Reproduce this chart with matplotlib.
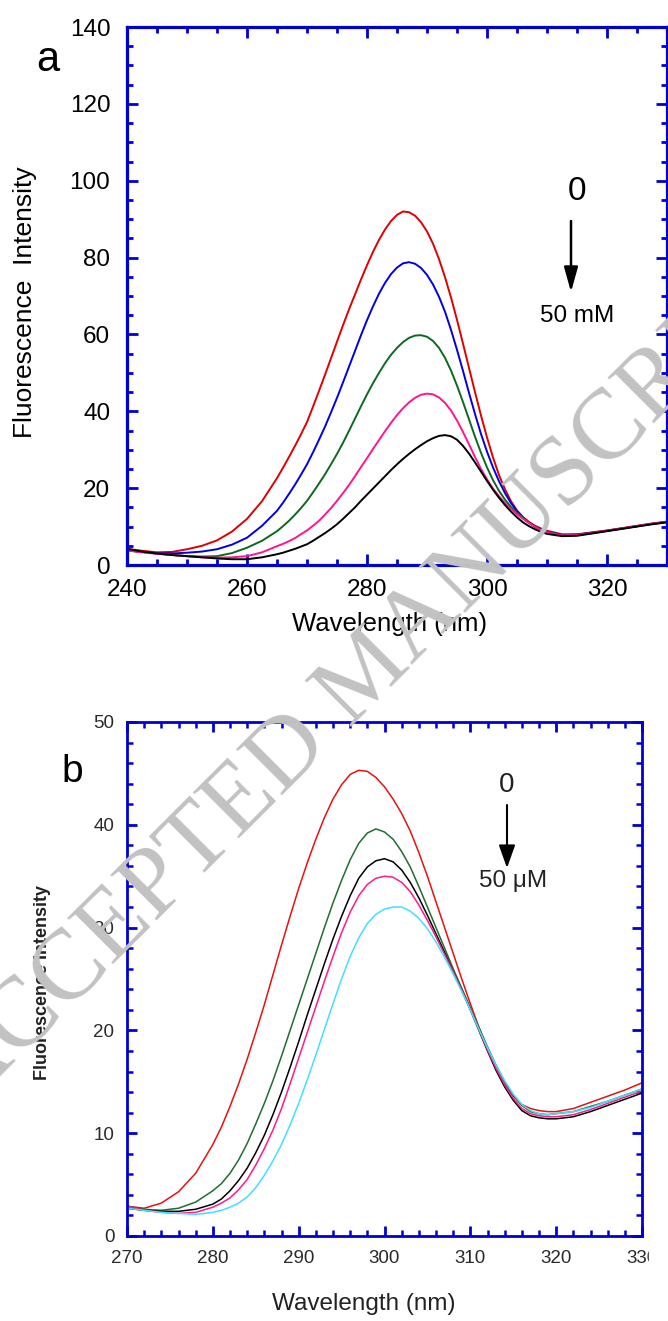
import matplotlib
matplotlib.use("Agg")
import matplotlib.pyplot as plt
from matplotlib.ticker import MultipleLocator
from matplotlib.patches import FancyArrowPatch, Rectangle

plt.rcParams['font.family'] = ['Liberation Sans', 'DejaVu Sans']

# ---------------- data: panel a (wavelength, nm) ----------------
wl_a = ([240, 242.5, 245, 247.5, 250, 252.5, 255, 257.5, 260, 262.5, 265]
        + list(range(266, 311))
        + [312.5, 315, 317.5, 320, 322.5, 325, 327.5, 330])
red_a = [4.2, 3.7, 3.3, 3.4, 4.1, 5.0, 6.4, 8.7, 12.0, 16.6, 22.6,
         25.3, 28.1, 31.0, 34.0, 37.2,
         41.2, 45.3, 49.5, 53.8, 58.1, 62.4, 66.5, 70.4, 74.3, 78.0,
         81.5, 84.6, 87.3, 89.5, 91.1, 92.0, 91.8, 90.9, 89.2, 86.8,
         83.6, 79.6, 74.9, 69.6, 63.8, 57.6, 51.3, 45.0, 38.9, 33.2,
         28.0, 23.4, 19.7, 16.6, 14.2, 12.5, 11.2, 10.2, 9.5, 8.9,
         8.0, 8.0, 8.5, 9.0, 9.6, 10.2, 10.8, 11.3]
blue_a = [3.8, 3.4, 3.0, 3.0, 3.2, 3.5, 4.1, 5.3, 7.1, 10.2, 14.1,
          16.2, 18.5, 20.9, 23.5, 26.2,
          29.3, 32.6, 36.0, 39.7, 43.5, 47.5, 51.6, 55.7, 59.8, 63.7,
          67.3, 70.6, 73.4, 75.7, 77.4, 78.5, 78.8, 78.4, 77.3, 75.5,
          73.0, 69.8, 65.9, 61.2, 56.0, 50.5, 44.8, 39.3, 34.1, 29.5,
          25.4, 21.8, 18.7, 16.1, 14.0, 12.3, 11.0, 10.0, 9.3, 8.7,
          7.8, 7.9, 8.4, 8.9, 9.5, 10.1, 10.7, 11.2]
green_a = [3.8, 3.4, 3.0, 2.6, 2.3, 2.2, 2.3, 3.1, 4.5, 6.3, 8.8,
           10.1, 11.5, 13.1, 14.8, 16.7,
           18.9, 21.2, 23.6, 26.2, 28.9, 31.8, 34.9, 38.1, 41.3, 44.4,
           47.3, 50.0, 52.5, 54.7, 56.5, 58.0, 59.1, 59.7, 59.8, 59.4,
           58.3, 56.5, 53.9, 50.6, 46.7, 42.4, 37.9, 33.4, 29.2, 25.4,
           22.1, 19.3, 17.0, 15.1, 13.6, 12.3, 11.0, 10.0, 9.2, 8.6,
           7.7, 7.8, 8.3, 8.9, 9.5, 10.1, 10.7, 11.2]
pink_a = [3.8, 3.3, 2.9, 2.6, 2.3, 2.0, 1.9, 2.0, 2.3, 3.3, 4.9,
          5.5, 6.2, 7.0, 8.0, 9.0,
          10.2, 11.5, 13.1, 14.8, 16.7, 18.7, 20.8, 23.1, 25.5, 27.8,
          30.2, 32.5, 34.8, 37.0, 39.0, 40.8, 42.3, 43.5, 44.3, 44.6,
          44.4, 43.6, 42.2, 40.2, 37.6, 34.6, 31.4, 28.1, 25.0, 22.3,
          19.9, 17.9, 16.1, 14.6, 13.2, 12.0, 10.9, 9.9, 9.1, 8.5,
          7.7, 7.8, 8.3, 8.9, 9.5, 10.1, 10.7, 11.2]
black_a = [4.2, 3.5, 3.0, 2.6, 2.3, 2.0, 1.7, 1.5, 1.5, 2.0, 2.8,
           3.2, 3.7, 4.2, 4.8, 5.4,
           6.3, 7.3, 8.3, 9.4, 10.6, 12.0, 13.5, 15.0, 16.7, 18.3,
           19.9, 21.5, 23.1, 24.7, 26.2, 27.6, 28.9, 30.1, 31.2, 32.2,
           33.0, 33.6, 33.8, 33.5, 32.6, 31.0, 29.0, 26.7, 24.3, 21.9,
           19.6, 17.5, 15.6, 13.9, 12.4, 11.1, 10.1, 9.3, 8.6, 8.1,
           7.5, 7.6, 8.2, 8.8, 9.4, 10.0, 10.6, 11.1]
series_a = [(red_a, '#e00000'), (blue_a, '#0000e6'), (green_a, '#0b6a1e'),
            (pink_a, '#ff1493'), (black_a, '#000000')]

# ---------------- data: panel b (wavelength, nm) ----------------
wl_b = ([270, 272, 274, 276, 278, 280]
        + list(range(281, 320))
        + [320, 322, 324, 326, 328, 330])
red_b = [2.9, 2.7, 3.2, 4.3, 6.1, 8.9,
         10.6, 12.6, 14.8, 17.2, 19.8, 22.5, 25.4, 28.3, 31.1, 33.8,
         36.3, 38.6, 40.7, 42.5, 43.9, 44.9, 45.3, 45.2, 44.6, 43.7,
         42.5, 41.1, 39.4, 37.3, 35.0, 32.5, 30.0, 27.5, 25.0, 22.6,
         20.3, 18.2, 16.3, 14.8, 13.6, 12.8, 12.4, 12.2, 12.1,
         12.1, 12.4, 13.0, 13.6, 14.2, 14.9]
green_b = [2.9, 2.6, 2.5, 2.7, 3.3, 4.4,
           5.1, 6.1, 7.4, 9.0, 10.9, 12.9, 15.1, 17.5, 20.0, 22.5,
           25.0, 27.5, 30.0, 32.4, 34.6, 36.6, 38.2, 39.2, 39.6, 39.3,
           38.6, 37.4, 35.9, 34.0, 32.0, 30.0, 28.0, 26.0, 24.1, 22.2,
           20.3, 18.4, 16.6, 15.0, 13.7, 12.7, 12.1, 11.9, 11.8,
           11.9, 12.1, 12.6, 13.1, 13.7, 14.3]
black_b = [2.7, 2.5, 2.4, 2.4, 2.6, 3.1,
           3.6, 4.4, 5.4, 6.6, 8.1, 9.8, 11.8, 14.0, 16.4, 18.9,
           21.5, 24.0, 26.5, 28.9, 31.1, 33.1, 34.8, 35.9, 36.5, 36.7,
           36.4, 35.6, 34.4, 32.9, 31.2, 29.4, 27.6, 25.7, 23.9, 22.0,
           20.0, 18.0, 16.1, 14.5, 13.2, 12.2, 11.7, 11.5, 11.4,
           11.4, 11.6, 12.1, 12.7, 13.3, 13.9]
pink_b = [2.9, 2.5, 2.3, 2.2, 2.3, 2.8,
          3.2, 3.7, 4.5, 5.5, 6.9, 8.5, 10.3, 12.4, 14.8, 17.3,
          19.8, 22.3, 24.8, 27.2, 29.5, 31.5, 33.1, 34.2, 34.8, 35.0,
          34.9, 34.4, 33.5, 32.2, 30.7, 29.1, 27.4, 25.7, 23.9, 22.1,
          20.1, 18.1, 16.3, 14.7, 13.4, 12.4, 11.9, 11.7, 11.6,
          11.6, 11.8, 12.3, 12.9, 13.5, 14.1]
cyan_b = [2.7, 2.5, 2.3, 2.2, 2.1, 2.3,
          2.5, 2.8, 3.2, 3.8, 4.7, 5.9, 7.3, 8.9, 10.8, 12.9,
          15.2, 17.6, 20.1, 22.6, 25.0, 27.2, 29.0, 30.4, 31.3, 31.8,
          32.0, 32.0, 31.6, 30.9, 29.9, 28.6, 27.1, 25.5, 23.8, 22.0,
          20.1, 18.3, 16.6, 15.1, 13.8, 12.8, 12.2, 11.9, 11.8,
          11.9, 12.1, 12.5, 13.1, 13.7, 14.3]
series_b = [(red_b, '#e81010'), (green_b, '#1e6e30'), (black_b, '#000000'),
            (pink_b, '#ff1a8c'), (cyan_b, '#40e0ff')]

xticks_a = [240, 260, 280, 300, 320]
yticks_a = [0, 20, 40, 60, 80, 100, 120, 140]
xticks_b = [270, 280, 290, 300, 310, 320, 330]
yticks_b = [0, 10, 20, 30, 40, 50]

W, H = 668, 1321
fig = plt.figure(figsize=(W / 100, H / 100), dpi=100)


def fx(x):
    return x / W


def fy(y):
    return 1 - y / H


SPINE = '#0000d0'

# ---------------- panel a ----------------
axa = fig.add_axes([fx(127), fy(565), 540 / W, 538 / H])
for vals, col in series_a:
    axa.plot(wl_a, vals, color=col, lw=1.4)
axa.set_xlim(240, 330)
axa.set_ylim(0, 140)
axa.set_xticks(xticks_a)
axa.set_yticks(yticks_a)
axa.xaxis.set_minor_locator(MultipleLocator(5))
axa.yaxis.set_minor_locator(MultipleLocator(5))
axa.tick_params(which='both', direction='in', top=True, right=True, color=SPINE)
axa.tick_params(which='major', length=8, width=2, labelsize=17.5, pad=12)
axa.tick_params(which='minor', length=4.5, width=2)
axa.tick_params(axis='x', which='major', pad=10)
for s in axa.spines.values():
    s.set_color(SPINE)
    s.set_linewidth(2.3)

fig.text(fx(390), fy(624), 'Wavelength (nm)', ha='center', va='center', fontsize=18.5)
fig.text(fx(25), fy(302), 'Fluorescence  Intensity', ha='center', va='center',
         rotation=90, fontsize=19)
fig.text(fx(48), fy(60), 'a', ha='center', va='center', fontsize=30)

fig.text(fx(577), fy(191), '0', ha='center', va='center', fontsize=24)
fig.text(fx(577), fy(316), '50 mM', ha='center', va='center', fontsize=17.5)
fig.patches.append(FancyArrowPatch((fx(571), fy(221)), (fx(571), fy(292)),
                                   transform=fig.transFigure,
                                   arrowstyle='-|>,head_length=1.5,head_width=0.42',
                                   mutation_scale=10, lw=1.8, color='k',
                                   shrinkA=0, shrinkB=0))

# ---------------- panel b ----------------
axb = fig.add_axes([fx(127), fy(1236), 515 / W, 514 / H])
for vals, col in series_b:
    axb.plot(wl_b, vals, color=col, lw=1.1)
axb.set_xlim(270, 330)
axb.set_ylim(0, 50)
axb.set_xticks(xticks_b)
axb.set_yticks(yticks_b)
axb.xaxis.set_minor_locator(MultipleLocator(2))
axb.yaxis.set_minor_locator(MultipleLocator(2))
axb.tick_params(which='both', direction='in', top=True, right=True, color=SPINE,
                labelcolor='#2a2a2a')
axb.tick_params(which='major', length=7, width=2, labelsize=13.5, pad=9)
axb.tick_params(which='minor', length=4, width=1.8)
axb.tick_params(axis='x', which='major', pad=10)
for s in axb.spines.values():
    s.set_color(SPINE)
    s.set_linewidth(2.0)

fig.text(fx(364), fy(1304), 'Wavelength (nm)', ha='center', va='center',
         fontsize=17.5, color='#222222')
fig.text(fx(43), fy(983), 'Fluorescence Intensity', ha='center', va='center',
         rotation=90, fontsize=13, fontweight='bold', color='#222222')
fig.text(fx(72), fy(772), 'b', ha='center', va='center', fontsize=28)

fig.text(fx(507), fy(785), '0', ha='center', va='center', fontsize=20, color='#222222')
fig.text(fx(513), fy(881), '50 \u03bcM', ha='center', va='center', fontsize=17.5,
         color='#222222')
fig.patches.append(FancyArrowPatch((fx(507), fy(805)), (fx(507), fy(868)),
                                   transform=fig.transFigure,
                                   arrowstyle='-|>,head_length=1.4,head_width=0.5',
                                   mutation_scale=10, lw=1.5, color='k',
                                   shrinkA=0, shrinkB=0))

# right edge of the lower panel is cropped in the original
fig.patches.append(Rectangle((fx(649), 0), 1 - fx(649), (H - 1180) / H,
                             transform=fig.transFigure, color='white', zorder=5))

# watermark
fig.text(fx(368), fy(674), 'ACCEPTED MANUSCRIPT', ha='center', va='center',
         rotation=45, rotation_mode='anchor', fontsize=72,
         family='Liberation Serif', color='#c2c2c2', zorder=10)

fig.savefig('out.png', dpi=100)
